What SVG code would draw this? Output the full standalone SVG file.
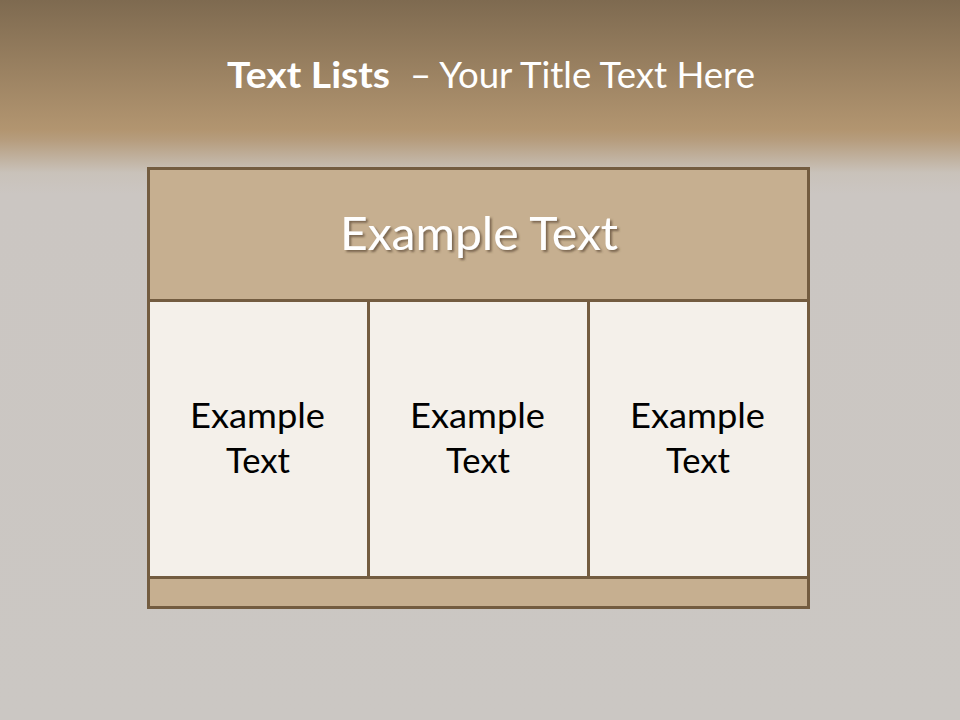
<svg xmlns="http://www.w3.org/2000/svg" width="960" height="720" viewBox="0 0 960 720">
<defs>
<linearGradient id="bg" x1="0" y1="0" x2="0" y2="1">
<stop offset="0" stop-color="#7E6A50"/>
<stop offset="0.18" stop-color="#B29570"/>
<stop offset="0.195" stop-color="#B69D7E"/>
<stop offset="0.24" stop-color="#C9C2BA"/>
<stop offset="0.27" stop-color="#CBC6C2"/>
<stop offset="1" stop-color="#CBC7C3"/>
</linearGradient>
<filter id="sh" x="-10%" y="-20%" width="120%" height="150%">
<feDropShadow dx="2" dy="2" stdDeviation="1.2" flood-color="#5a4630" flood-opacity="0.7"/>
</filter>
</defs>
<style>
.t{font-family:Lato,"Open Sans","Liberation Sans",sans-serif}
.box{stroke:#735C40;stroke-width:3}
.cell{font-size:34px;fill:#000;text-anchor:start}
</style>
<rect width="960" height="720" fill="url(#bg)"/>
<text class="t" y="88" fill="#fff" font-size="36"><tspan x="227" font-weight="bold" textLength="163" lengthAdjust="spacingAndGlyphs">Text Lists</tspan><tspan x="410" textLength="345" lengthAdjust="spacingAndGlyphs">– Your Title Text Here</tspan></text>
<g id="header">
<rect class="box" x="148.5" y="168.5" width="660" height="132" fill="#C6AF90"/>
<text class="t" x="340" y="250" fill="#fff" font-size="47" filter="url(#sh)" textLength="278" lengthAdjust="spacingAndGlyphs">Example Text</text>
</g>
<g id="cell1">
<rect class="box" x="148.5" y="300.5" width="220" height="277" fill="#F4F0EA"/>
<text class="t cell" x="190" y="428" textLength="135" lengthAdjust="spacingAndGlyphs">Example</text>
<text class="t cell" x="226" y="473" textLength="64" lengthAdjust="spacingAndGlyphs">Text</text>
</g>
<g id="cell2">
<rect class="box" x="368.5" y="300.5" width="220" height="277" fill="#F4F0EA"/>
<text class="t cell" x="410" y="428" textLength="135" lengthAdjust="spacingAndGlyphs">Example</text>
<text class="t cell" x="446" y="473" textLength="64" lengthAdjust="spacingAndGlyphs">Text</text>
</g>
<g id="cell3">
<rect class="box" x="588.5" y="300.5" width="220" height="277" fill="#F4F0EA"/>
<text class="t cell" x="630" y="428" textLength="135" lengthAdjust="spacingAndGlyphs">Example</text>
<text class="t cell" x="666" y="473" textLength="64" lengthAdjust="spacingAndGlyphs">Text</text>
</g>
<g id="footer">
<rect class="box" x="148.5" y="577.5" width="660" height="30" fill="#C6AF90"/>
</g>
<g id="connectors"/>
</svg>
